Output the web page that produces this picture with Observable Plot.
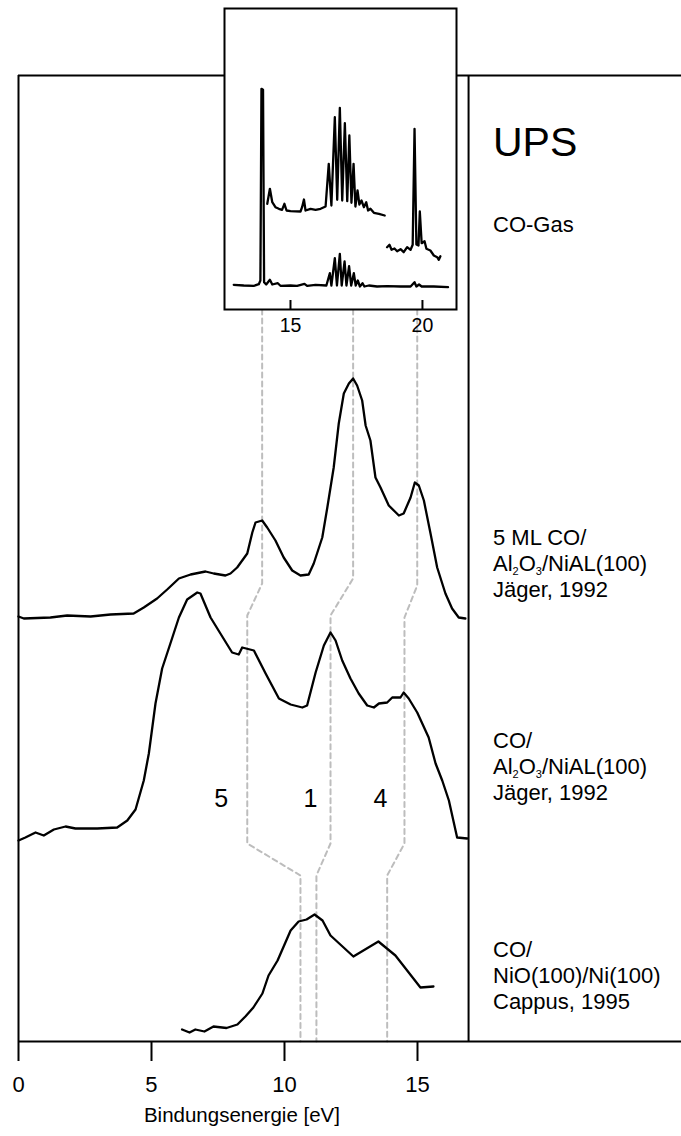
<!DOCTYPE html>
<html><head><meta charset="utf-8">
<script src="https://cdn.jsdelivr.net/npm/d3@7"></script>
<script src="https://cdn.jsdelivr.net/npm/@observablehq/plot@0.6"></script>
<style>
html,body{margin:0;padding:0;background:#fff;}
#wrap{position:relative;width:681px;height:1136px;font-family:"Liberation Sans",Arial,Helvetica,sans-serif;overflow:hidden}
#main{position:absolute;left:0;top:0;width:681px;height:1136px}
#inset{position:absolute;left:222px;top:6px;width:236px;height:333px}
#main svg,#inset svg{display:block}
.lab{position:absolute;left:493px;font-size:22px;line-height:26px;color:#000;white-space:nowrap}
.lab sub{font-size:11px;vertical-align:-4px;line-height:0}
</style></head><body><div id="wrap"><div id="main"></div><div id="inset"></div></div>
<script>
// ---------- main panel: binding energy (eV) and intensity (a.u.) ----------
const mlE = [0.0,0.2,1.2,1.83,2.71,3.46,4.33,4.71,5.21,5.59,6.03,6.47,7.03,7.34,7.78,7.97,8.22,8.60,8.79,8.91,9.16,9.35,9.66,9.97,10.29,10.60,10.91,11.10,11.42,11.61,11.85,12.04,12.23,12.42,12.58,12.73,12.92,13.05,13.23,13.42,13.61,13.92,14.30,14.48,14.74,14.90,15.05,15.24,15.49,15.74,16.05,16.30,16.55,16.80];
const mlI = [1,-1,0,2,1,3,4,10,19,28,39,43,46,44,42,44,50,64,85,95,97,90,77,60,47,42,43,54,80,110,150,194,224,234,239,232,217,192,177,140,130,112,102,104,120,135,132,117,84,50,24,9,0,-1];
const coE = [0.0,0.26,0.64,0.95,1.33,1.77,2.14,2.96,3.71,4.09,4.40,4.71,4.90,5.15,5.40,5.71,6.03,6.34,6.72,6.84,7.22,7.59,8.03,8.28,8.41,8.85,9.29,9.79,10.23,10.67,10.85,11.17,11.48,11.73,11.92,12.17,12.48,12.79,13.11,13.36,13.55,13.86,14.05,14.36,14.48,14.67,14.99,15.42,15.68,15.93,16.18,16.49,16.87];
const coI = [-2,1,6,3,9,12,10,10,11,18,29,58,85,135,170,195,221,239,246,245,221,205,186,184,191,188,165,140,134,131,133,166,193,206,198,178,160,145,133,131,135,136,141,141,146,140,126,101,75,58,38,1,0];
const nioE = [6.15,6.43,6.65,6.99,7.33,7.82,8.23,8.53,8.83,9.17,9.40,9.74,10.23,10.53,10.83,11.13,11.43,11.73,12.59,13.53,14.17,15.11,15.60];
const nioI = [0,-3,0,-2,3,1.5,5,13,22,36,54,69,99,108,110,115,109,94,73,88,74,42,43];
const seriesNames = ["5 ML CO/Al2O3/NiAl(100)", "CO/Al2O3/NiAl(100)", "CO/NiO(100)/Ni(100)"];
const seriesOffsets = [424, 203, 12];

// dashed guides linking peaks 5, 1, 4 through the spectra
const guideNames = ["5", "1", "4"];
const guideE = [
  [9.16, 9.16, 8.60, 8.60, 10.60, 10.60],
  [12.58, 12.58, 11.73, 11.73, 11.20, 11.20],
  [14.99, 14.99, 14.51, 14.51, 13.86, 13.86]
];
const guideV = [
  [732, 458, 426, 198, 166, 0],
  [732, 463, 426, 198, 166, 0],
  [732, 456, 424, 198, 166, 0]
];
const peakLabelE = [7.62, 10.98, 13.61];
const peakLabelV = [243, 243, 243];

const xTicks = [0, 5, 10, 15];
const xMax = 24.925;      // right end of the baseline
const panelEnd = 16.92;   // right border of the spectra panel
const yTop = 966;

// ---------- inset: CO gas phase spectrum ----------
const gasE = [12.85,13.23,13.61,13.80,13.86,13.90,13.96,14.00,14.08,14.22,14.31,14.52,14.62,15.00,15.25,15.53,15.63,15.95,16.36,16.49,16.55,16.68,16.76,16.87,16.94,17.05,17.12,17.22,17.30,17.40,17.47,17.55,17.63,17.73,17.80,17.97,18.28,18.66,19.17,19.55,19.70,19.77,19.87,19.97,20.43,20.97];
const gasI = [24.7,24,23.7,25.3,29,220.7,219.7,27.3,25,29.7,25,26.3,23.7,24,23.7,25.7,23.7,24.7,24,36.3,24,51.3,24,55.7,24,48,24,43.3,24,36.3,24,29,23,26.3,23,24,23,23.3,23,23,27.3,23,25,23,23,22.3];
const zoomAE = [14.12,14.22,14.31,14.43,14.56,14.68,14.77,14.85,15.00,15.38,15.44,15.51,15.57,15.76,15.95,16.14,16.33,16.45,16.55,16.68,16.77,16.87,16.96,17.06,17.15,17.23,17.31,17.39,17.46,17.54,17.61,17.69,17.78,17.87,17.94,18.03,18.16,18.35,18.57];
const zoomAI = [105.7,120.7,107.3,102.3,100.7,99.7,105.7,99,98.3,98,102.3,110,99,100.7,99.7,100.7,103,145.7,104,192.3,109.7,201.7,109,186.3,108.3,174,106.7,145.7,103,119,105,109,102.3,107.3,99,100.7,96.7,95.7,94];
const zoomBE = [18.66,18.75,18.83,18.94,19.04,19.17,19.29,19.42,19.55,19.63,19.70,19.77,19.85,19.90,19.97,20.08,20.15,20.30,20.43,20.56,20.62,20.68];
const zoomBI = [62.3,64.7,59.7,61,58.3,60.3,57.3,62.3,59.7,64.7,180.7,65,64,98,66.3,68.3,60.7,59,54,52.3,49.7,53.3];
const insetTicks = [15, 20];

// ---------- build tables ----------
const spectra = [];
[[mlE, mlI], [coE, coI], [nioE, nioI]].forEach(([E, I], k) => {
  E.forEach((e, i) => spectra.push({series: seriesNames[k], e, v: I[i] + seriesOffsets[k]}));
});
const guides = [];
guideE.forEach((E, k) => E.forEach((e, i) => guides.push({guide: guideNames[k], e, v: guideV[k][i]})));
const peakLabels = guideNames.map((t, i) => ({t, e: peakLabelE[i], v: peakLabelV[i]}));

const gas = [];
[["gas", gasE, gasI], ["zoomA", zoomAE, zoomAI], ["zoomB", zoomBE, zoomBI]].forEach(([s, E, I]) => {
  E.forEach((e, i) => gas.push({s, e, v: I[i]}));
});

const font = "'Liberation Sans', Arial, Helvetica, sans-serif";

const mainPlot = Plot.plot({
  width: 681, height: 1136,
  marginLeft: 18, marginRight: 0, marginTop: 75, marginBottom: 95,
  x: {domain: [0, xMax]},
  y: {domain: [0, yTop], axis: null},
  style: {fontFamily: font, background: "transparent", overflow: "visible"},
  marks: [
    Plot.line(guides, {x: "e", y: "v", z: "guide", stroke: "#bdbdbd", strokeWidth: 2, strokeDasharray: "5,4"}),
    Plot.ruleY([0, yTop], {stroke: "black", strokeWidth: 2}),
    Plot.ruleX([0, panelEnd], {y1: 0, y2: yTop, stroke: "black", strokeWidth: 2}),
    Plot.line(spectra, {x: "e", y: "v", z: "series", stroke: "black", strokeWidth: 2.3, strokeLinejoin: "round"}),
    Plot.text(peakLabels, {x: "e", y: "v", text: "t", fontSize: 25, fill: "black"}),
    Plot.axisX({ticks: xTicks, tickSize: 20, tickPadding: 15, fontSize: 22, strokeWidth: 2, label: null, tickFormat: d => String(d)}),
    Plot.text(["Bindungsenergie [eV]"], {x: 8.4, frameAnchor: "bottom", dy: 80, fontSize: 20.5, fill: "black"})
  ]
});
document.getElementById("main").appendChild(mainPlot);

const insetPlot = Plot.plot({
  width: 236, height: 333,
  marginLeft: 2, marginRight: 2, marginTop: 2, marginBottom: 30,
  x: {domain: [12.5, 21.29]},
  y: {domain: [0, 301], axis: null},
  style: {fontFamily: font, background: "transparent", overflow: "visible"},
  marks: [
    Plot.frame({fill: "white", stroke: "black", strokeWidth: 2}),
    Plot.ruleX(insetTicks, {y1: 0, y2: 9, stroke: "black", strokeWidth: 2}),
    Plot.line(gas, {x: "e", y: "v", z: "s", stroke: "black", strokeWidth: 2.3, strokeLinejoin: "round"}),
    Plot.axisX({ticks: insetTicks, tickSize: 0, tickPadding: 9, fontSize: 19.5, label: null, tickFormat: d => String(d)})
  ]
});
document.getElementById("inset").appendChild(insetPlot);

// ---------- right-hand annotations ----------
const wrap = document.getElementById("wrap");
function addLabel(html, top, size, lh) {
  const d = document.createElement("div");
  d.className = "lab";
  d.style.top = top + "px";
  if (size) d.style.fontSize = size + "px";
  if (lh) d.style.lineHeight = lh + "px";
  d.innerHTML = html;
  wrap.appendChild(d);
}
addLabel("UPS", 122, 41, 41);
addLabel("CO-Gas", 212);
addLabel("5 ML CO/<br>Al<sub>2</sub>O<sub>3</sub>/NiAL(100)<br>Jäger, 1992", 525);
addLabel("CO/<br>Al<sub>2</sub>O<sub>3</sub>/NiAL(100)<br>Jäger, 1992", 728);
addLabel("CO/<br>NiO(100)/Ni(100)<br>Cappus, 1995", 937);
</script></body></html>
